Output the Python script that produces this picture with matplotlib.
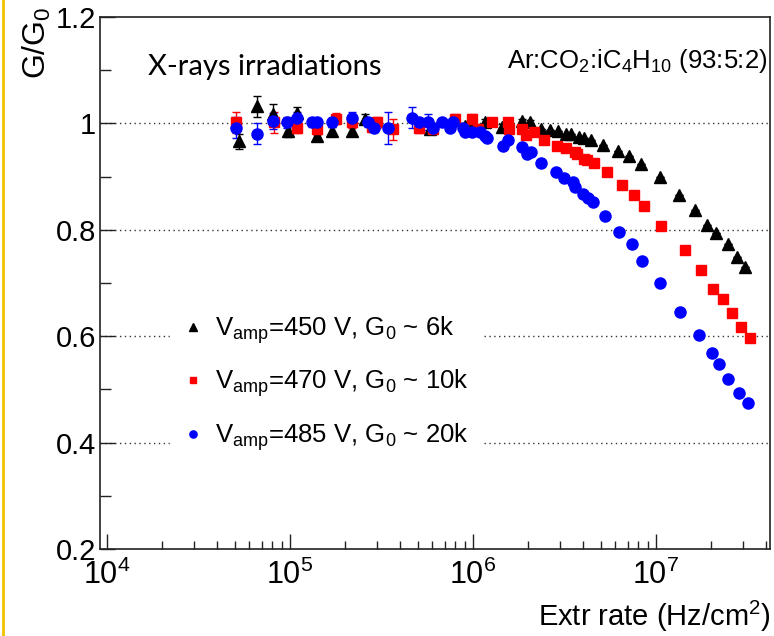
import numpy as np
import matplotlib
matplotlib.use("Agg")
import matplotlib.pyplot as plt
from matplotlib.lines import Line2D
from matplotlib.ticker import LogLocator, MultipleLocator

plt.rcParams["font.family"] = ["Liberation Sans", "DejaVu Sans"]
plt.rcParams["mathtext.fontset"] = "custom"
plt.rcParams["mathtext.rm"] = "Liberation Sans"
plt.rcParams["mathtext.it"] = "Liberation Sans:italic"
plt.rcParams["mathtext.bf"] = "Liberation Sans:bold"

# Vamp = 450 V, G0 ~ 6k
rate_450 = [5.26e4, 6.56e4, 8.07e4, 9.75e4, 1.09e5, 1.41e5, 1.70e5, 2.18e5, 2.57e5,
            5.80e5, 9.0e5, 9.9e5, 1.16e6, 1.44e6, 1.85e6, 2.05e6, 2.35e6, 2.64e6,
            2.91e6, 3.22e6, 3.43e6, 3.79e6, 4.04e6, 4.42e6, 5.13e6, 6.20e6, 7.12e6,
            8.28e6, 1.05e7, 1.34e7, 1.63e7, 1.90e7, 2.13e7, 2.47e7, 2.77e7, 3.06e7]
gain_450 = [0.966, 1.032, 1.017, 0.985, 1.020, 0.977, 0.985, 0.985, 1.008,
            0.990, 0.995, 0.995, 1.002, 0.994, 1.004, 1.002, 0.989, 0.987,
            0.985, 0.981, 0.981, 0.975, 0.972, 0.968, 0.960, 0.949, 0.938,
            0.923, 0.900, 0.866, 0.838, 0.809, 0.794, 0.774, 0.749, 0.730]
err_450 = [0.015, 0.020, 0.020, 0.010, 0.010, 0.008, 0.008, 0.008, 0.010,
           0.010, 0.006, 0.006, 0.006, 0.005, 0.005, 0.004, 0, 0,
           0, 0, 0, 0, 0, 0, 0, 0, 0,
           0, 0, 0, 0, 0, 0, 0, 0, 0]

# Vamp = 470 V, G0 ~ 10k
rate_470 = [5.07e4, 8.18e4, 1.09e5, 1.41e5, 1.78e5, 2.18e5, 2.81e5, 2.99e5, 3.66e5,
            5.07e5, 6.04e5, 7.98e5, 9.88e5, 1.07e6, 1.27e6, 1.55e6, 1.57e6, 1.85e6,
            1.95e6, 2.15e6, 2.44e6, 2.88e6, 3.22e6, 3.61e6, 3.70e6, 4.04e6, 4.20e6,
            4.58e6, 5.40e6, 6.52e6, 7.59e6, 8.60e6, 1.06e7, 1.44e7, 1.76e7, 2.05e7,
            2.32e7, 2.60e7, 2.91e7, 3.27e7]
gain_470 = [1.002, 1.002, 0.992, 0.989, 1.009, 1.002, 0.994, 1.002, 0.989,
            0.992, 0.990, 1.009, 1.009, 0.990, 1.002, 1.002, 0.990, 0.990,
            0.979, 0.983, 0.968, 0.958, 0.953, 0.947, 0.942, 0.934, 0.932,
            0.925, 0.908, 0.885, 0.866, 0.845, 0.808, 0.762, 0.725, 0.689,
            0.670, 0.643, 0.617, 0.596]
err_470 = [0.020, 0.020, 0.010, 0.010, 0.010, 0.010, 0.010, 0.010, 0.020,
           0.010, 0.010, 0.008, 0.008, 0.006, 0.005, 0.004, 0, 0,
           0, 0, 0, 0, 0, 0, 0, 0, 0,
           0, 0, 0, 0, 0, 0, 0, 0, 0,
           0, 0, 0, 0]

# Vamp = 485 V, G0 ~ 20k
rate_485 = [5.07e4, 6.56e4, 8.07e4, 9.64e4, 1.09e5, 1.32e5, 1.41e5, 1.70e5, 2.18e5,
            2.67e5, 2.88e5, 3.43e5, 4.64e5, 5.07e5, 5.68e5, 6.04e5, 6.77e5, 7.48e5,
            7.78e5, 8.82e5, 9.04e5, 9.88e5, 1.09e6, 1.16e6, 1.19e6, 1.46e6, 1.55e6,
            1.85e6, 1.97e6, 2.07e6, 2.35e6, 2.84e6, 3.14e6, 3.52e6, 3.61e6, 3.99e6,
            4.25e6, 4.53e6, 5.26e6, 6.28e6, 7.39e6, 8.38e6, 1.05e7, 1.35e7, 1.72e7,
            2.02e7, 2.21e7, 2.47e7, 2.84e7, 3.18e7]
gain_485 = [0.992, 0.981, 1.004, 1.002, 1.011, 1.002, 1.002, 1.002, 1.011,
            1.002, 0.992, 0.992, 1.011, 1.002, 1.002, 0.992, 1.002, 0.992,
            1.002, 0.992, 0.983, 0.983, 0.983, 0.976, 0.972, 0.958, 0.968,
            0.955, 0.942, 0.946, 0.925, 0.908, 0.898, 0.889, 0.881, 0.868,
            0.860, 0.853, 0.826, 0.796, 0.774, 0.742, 0.700, 0.645, 0.602,
            0.568, 0.547, 0.519, 0.494, 0.474]
err_485 = [0.020, 0.020, 0.015, 0.010, 0.010, 0.008, 0.008, 0.008, 0.010,
           0.008, 0.008, 0.030, 0.020, 0.008, 0.015, 0.008, 0.006, 0.005,
           0.005, 0.004, 0, 0, 0, 0, 0, 0, 0,
           0, 0, 0, 0, 0, 0, 0, 0, 0,
           0, 0, 0, 0, 0, 0, 0, 0, 0,
           0, 0, 0, 0, 0]

labels = [r"V$_{\mathrm{amp}}$=450 V, G$_0$ ~ 6k",
          r"V$_{\mathrm{amp}}$=470 V, G$_0$ ~ 10k",
          r"V$_{\mathrm{amp}}$=485 V, G$_0$ ~ 20k"]
grid_levels = [0.4, 0.6, 0.8, 1.0]

fig = plt.figure(figsize=(7.74, 6.36), dpi=100)
ax = fig.add_axes([100 / 774, 1 - 549 / 636, 670 / 774, 532 / 636])

for y in grid_levels:
    ax.axhline(y, color="#333333", lw=1.0, ls=(0, (1, 2.5)), zorder=1)

series = [
    (rate_450, gain_450, err_450, "^", "black", 8.0),
    (rate_470, gain_470, err_470, "s", "red", 7.5),
    (rate_485, gain_485, err_485, "o", "blue", 8.0),
]
handles = []
for (xs, ys, es, mk, col, ms), lab in zip(series, labels):
    ax.errorbar(xs, ys, yerr=es, fmt=mk, color=col, ms=ms, mec=col,
                elinewidth=1.0, capsize=3, capthick=1.0, zorder=3)
    handles.append(Line2D([], [], ls="none", marker=mk, color=col, ms=ms * 0.65))

ax.set_xscale("log")
ax.set_xlim(9.15e3, 4.2e7)
ax.set_ylim(0.2, 1.2)
ax.yaxis.set_minor_locator(MultipleLocator(0.1))
ax.xaxis.set_major_locator(LogLocator(base=10, numticks=10))
ax.xaxis.set_minor_locator(LogLocator(base=10, subs=np.arange(2, 10), numticks=10))
ax.set_yticks([0.2, 0.4, 0.6, 0.8, 1.0, 1.2])
ax.set_yticklabels(["0.2", "0.4", "0.6", "0.8", "1", "1.2"])

ax.tick_params(which="both", direction="in", top=False, right=False,
               width=1.0, color="#222222")
ax.tick_params(axis="y", which="major", length=11, pad=3, labelsize=21)
ax.tick_params(axis="y", which="minor", length=8)
ax.tick_params(axis="x", which="major", length=11, pad=8, labelsize=22)
ax.tick_params(axis="x", which="minor", length=6)
for sp in ax.spines.values():
    sp.set_linewidth(1.2)
    sp.set_color("#222222")

leg = ax.legend(handles, labels, loc="upper left", bbox_to_anchor=(0.085, 0.49),
                fontsize=18.5, frameon=True, facecolor="white", edgecolor="white",
                framealpha=1.0, handlelength=0.8, handletextpad=0.45,
                labelspacing=0.85, borderpad=0.5, fancybox=False)
leg.set_zorder(5)

ax.text(0.072, 0.906, "X-rays irradiations", transform=ax.transAxes,
        fontsize=21, family=["Lato", "DejaVu Sans"], va="center", ha="left")
ax.text(0.996, 0.918, r"Ar:CO$_2$:iC$_4$H$_{10}$ (93:5:2)", transform=ax.transAxes,
        fontsize=18.5, va="center", ha="right")

fig.text(37 / 774, 1 - 6 / 636, r"G/G$_0$", rotation=90, fontsize=23,
         ha="center", va="top")
fig.text(771 / 774, 1 - 616 / 636, r"Extr rate (Hz/cm$^2$)", fontsize=21,
         ha="right", va="center")

# yellow slide border on the left edge
fig.add_artist(Line2D([3 / 774, 3 / 774], [0, 1], color="#F2C200", lw=2.0))

fig.savefig("out.png", dpi=100)
